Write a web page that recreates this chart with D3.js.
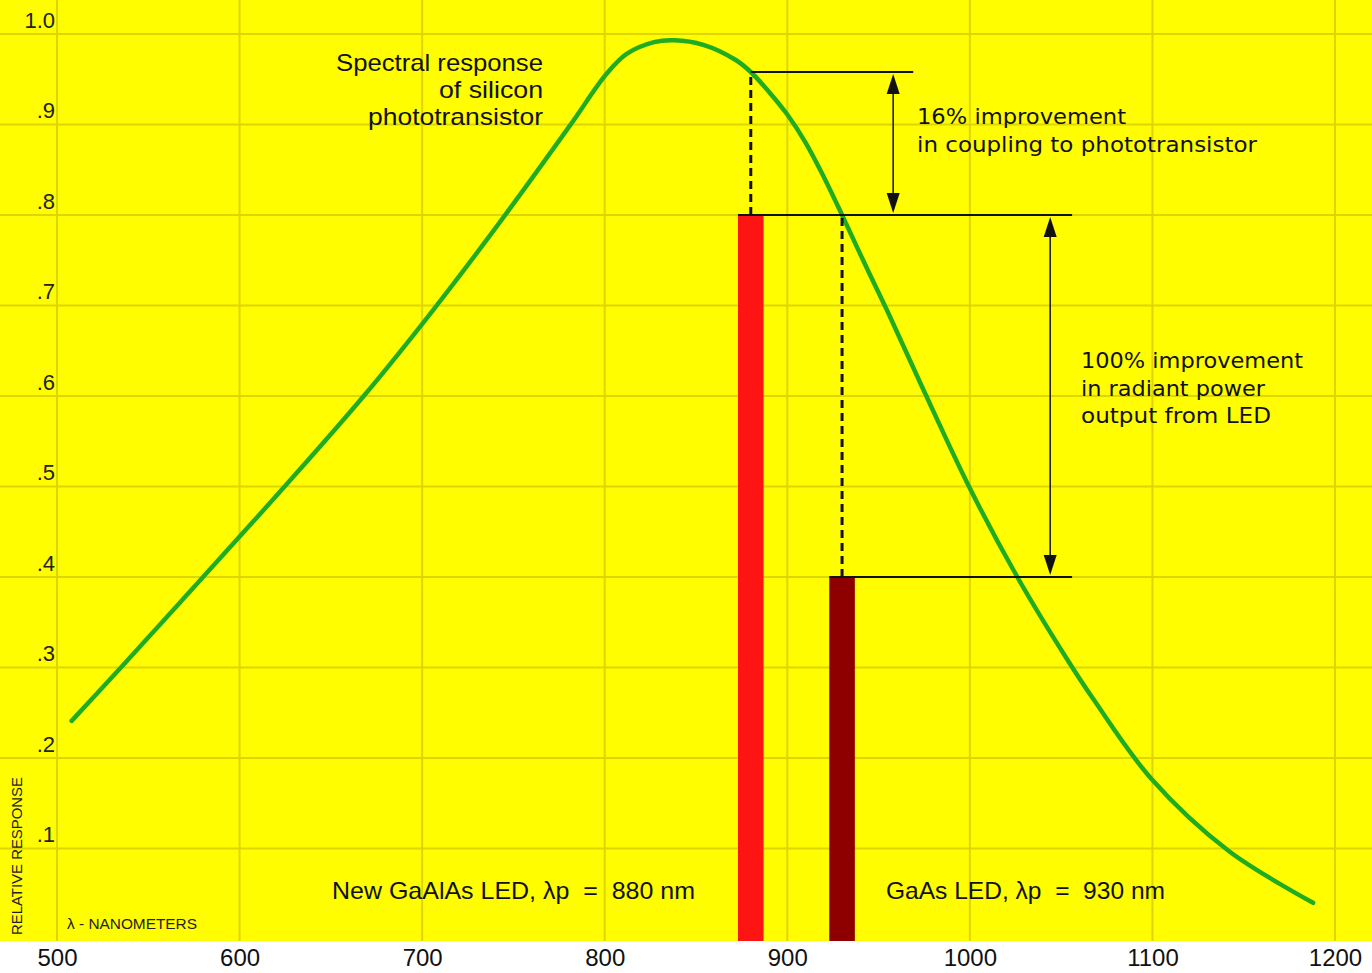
<!DOCTYPE html>
<html>
<head>
<meta charset="utf-8">
<script src="https://cdn.jsdelivr.net/npm/d3@7"></script>
<style>
  html, body { margin: 0; padding: 0; background: #ffffff; }
  svg { display: block; }
  text.led-label { white-space: pre; }
</style>
</head>
<body>
<svg id="chart" width="1372" height="973"></svg>
<script>
// Spectral response of a silicon phototransistor (relative), by wavelength in nm
const wavelengthNm = [508, 535, 580, 626, 668, 706, 744, 781, 801, 812, 827, 838, 854, 872, 880, 890, 900, 910, 920, 930, 942, 955, 975, 1000, 1026, 1053, 1068, 1099, 1142, 1188];
const relResponse  = [0.241, 0.300, 0.400, 0.503, 0.600, 0.695, 0.796, 0.899, 0.956, 0.978, 0.991, 0.993, 0.988, 0.971, 0.958, 0.936, 0.911, 0.880, 0.842, 0.800, 0.748, 0.693, 0.605, 0.498, 0.400, 0.310, 0.264, 0.178, 0.097, 0.040];

// LED emitters: peak wavelength and relative radiant output
const ledNames   = ["New GaAlAs LED", "GaAs LED"];
const ledPeakNm  = [880, 930];
const ledOutput  = [0.8, 0.4];

// Axis ticks
const xTickValues = [500, 600, 700, 800, 900, 1000, 1100, 1200];
const xTickLabels = ["500", "600", "700", "800", "900", "1000", "1100", "1200"];
const yTickValues = [0.1, 0.2, 0.3, 0.4, 0.5, 0.6, 0.7, 0.8, 0.9, 1.0];
const yTickLabels = [".1", ".2", ".3", ".4", ".5", ".6", ".7", ".8", ".9", "1.0"];

// ---- layout ----
const W = 1372, H = 973;
const plotBottom = 941;
const barHalfNm = 7;
const ledColors = ["#ff1414", "#8e0000"];
const sans = "'Liberation Sans', Arial, Helvetica, sans-serif";
const wide = "'DejaVu Sans', Verdana, sans-serif";

const x = d3.scaleLinear().domain([500, 1200]).range([57, 1335]);
const y = d3.scaleLinear().domain([0, 1]).range([939, 34]);

const svg = d3.select("#chart");

// yellow field
svg.append("rect").attr("x", 0).attr("y", 0).attr("width", W).attr("height", plotBottom).attr("fill", "#fffd00");

// grid
const grid = svg.append("g").attr("stroke", "#ddd600").attr("stroke-width", 2);
grid.selectAll("line.gv").data(xTickValues).join("line").attr("class", "gv")
  .attr("x1", d => x(d)).attr("x2", d => x(d)).attr("y1", 0).attr("y2", plotBottom);
grid.selectAll("line.gh").data(yTickValues).join("line").attr("class", "gh")
  .attr("x1", 0).attr("x2", W).attr("y1", d => y(d)).attr("y2", d => y(d));

// x axis labels
const xAxis = d3.axisBottom(x).tickValues(xTickValues)
  .tickFormat((d, i) => xTickLabels[i]).tickSize(0).tickPadding(8);
const gx = svg.append("g").attr("transform", `translate(0,${plotBottom})`).call(xAxis);
gx.select(".domain").remove();
gx.selectAll("text").attr("font-family", sans).attr("font-size", 24).attr("fill", "#111");

// y axis labels (sit just above their grid line)
const yAxis = d3.axisLeft(y).tickValues(yTickValues)
  .tickFormat((d, i) => yTickLabels[i]).tickSize(0).tickPadding(2);
const gy = svg.append("g").attr("transform", `translate(${x(500)},0)`).call(yAxis);
gy.select(".domain").remove();
gy.selectAll("text").attr("font-family", sans).attr("font-size", 22).attr("fill", "#222")
  .attr("dy", "0").attr("y", -7);

// response curve
const curvePts = wavelengthNm.map((w, i) => [w, relResponse[i]]);
const line = d3.line().x(d => x(d[0])).y(d => y(d[1])).curve(d3.curveCatmullRom.alpha(0.5));
svg.append("path").datum(curvePts).attr("d", line)
  .attr("fill", "none").attr("stroke", "#1fac1f").attr("stroke-width", 4.5)
  .attr("stroke-linecap", "round").attr("stroke-linejoin", "round");

function responseAt(nm) {
  const i = d3.bisector(d => d).left(wavelengthNm, nm);
  if (wavelengthNm[i] === nm) return relResponse[i];
  const t = (nm - wavelengthNm[i - 1]) / (wavelengthNm[i] - wavelengthNm[i - 1]);
  return relResponse[i - 1] + t * (relResponse[i] - relResponse[i - 1]);
}

// LED bars
svg.append("g").selectAll("rect").data(ledPeakNm).join("rect")
  .attr("x", d => x(d - barHalfNm))
  .attr("width", d => x(d + barHalfNm) - x(d - barHalfNm))
  .attr("y", (d, i) => y(ledOutput[i]))
  .attr("height", (d, i) => plotBottom - y(ledOutput[i]))
  .attr("fill", (d, i) => ledColors[i]);

// dashed drop lines from the curve down to each bar
svg.append("g").selectAll("line").data(ledPeakNm).join("line")
  .attr("x1", d => x(d)).attr("x2", d => x(d))
  .attr("y1", (d, i) => y(ledOutput[i]))
  .attr("y2", d => y(responseAt(d)))
  .attr("stroke", "#111").attr("stroke-width", 3).attr("stroke-dasharray", "8,5");

// reference levels
const coupled = responseAt(ledPeakNm[0]);
const levels = [
  { v: coupled,      from: ledPeakNm[0],             to: 969 },
  { v: ledOutput[0], from: ledPeakNm[0] - barHalfNm, to: 1056 },
  { v: ledOutput[1], from: ledPeakNm[1] - barHalfNm, to: 1056 }
];
svg.append("g").selectAll("line").data(levels).join("line")
  .attr("x1", d => x(d.from)).attr("x2", d => x(d.to))
  .attr("y1", d => y(d.v)).attr("y2", d => y(d.v))
  .attr("stroke", "#111").attr("stroke-width", 2);

// double-headed arrows
const arrows = [
  { at: 958,  top: coupled,      bottom: ledOutput[0] },
  { at: 1044, top: ledOutput[0], bottom: ledOutput[1] }
];
const ag = svg.append("g");
arrows.forEach(a => {
  const ax = x(a.at), y1 = y(a.top) + 2, y2 = y(a.bottom) - 2;
  const headL = 20, headW = 6.5;
  ag.append("line").attr("x1", ax).attr("x2", ax).attr("y1", y1 + 10).attr("y2", y2 - 10)
    .attr("stroke", "#222").attr("stroke-width", 1.6);
  ag.append("path").attr("d", `M${ax},${y1} L${ax - headW},${y1 + headL} L${ax + headW},${y1 + headL} Z`).attr("fill", "#111");
  ag.append("path").attr("d", `M${ax},${y2} L${ax - headW},${y2 - headL} L${ax + headW},${y2 - headL} Z`).attr("fill", "#111");
});

// annotation text
function textBlock(lines, opts) {
  const g = svg.append("g");
  lines.forEach((t, i) => {
    const el = g.append("text").attr("x", opts.x).attr("y", opts.y + i * opts.lh)
      .attr("font-family", opts.font).attr("font-size", opts.size)
      .attr("fill", "#111").attr("text-anchor", opts.anchor || "start").text(t);
    if (opts.lengths) el.attr("textLength", opts.lengths[i]).attr("lengthAdjust", "spacingAndGlyphs");
  });
}

textBlock(["Spectral response", "of silicon", "phototransistor"],
  { x: 543, y: 71, lh: 27, size: 24, font: sans, anchor: "end", lengths: [207, 104, 175] });

textBlock(["16% improvement", "in coupling to phototransistor"],
  { x: 917, y: 124, lh: 28, size: 21, font: wide, lengths: [209, 340] });

textBlock(["100% improvement", "in radiant power", "output from LED"],
  { x: 1081, y: 368, lh: 27.5, size: 21, font: wide, lengths: [222, 184, 190] });

// LED captions along the bottom
const captionX = [332, 886], captionLen = [363, 279];
svg.append("g").selectAll("text").data(ledNames).join("text")
  .attr("class", "led-label")
  .attr("x", (d, i) => captionX[i]).attr("y", 899)
  .attr("font-family", sans).attr("font-size", 24).attr("fill", "#111")
  .attr("textLength", (d, i) => captionLen[i]).attr("lengthAdjust", "spacingAndGlyphs")
  .text((d, i) => `${d}, λp  =  ${ledPeakNm[i]} nm`);

// axis titles
svg.append("text").attr("x", 67).attr("y", 929).attr("font-family", sans).attr("font-size", 14)
  .attr("fill", "#222").attr("textLength", 130).attr("lengthAdjust", "spacingAndGlyphs")
  .text("λ - NANOMETERS");
svg.append("text").attr("transform", "translate(22,935) rotate(-90)")
  .attr("font-family", sans).attr("font-size", 14).attr("fill", "#222")
  .attr("textLength", 158).attr("lengthAdjust", "spacingAndGlyphs")
  .text("RELATIVE RESPONSE");
</script>
</body>
</html>
